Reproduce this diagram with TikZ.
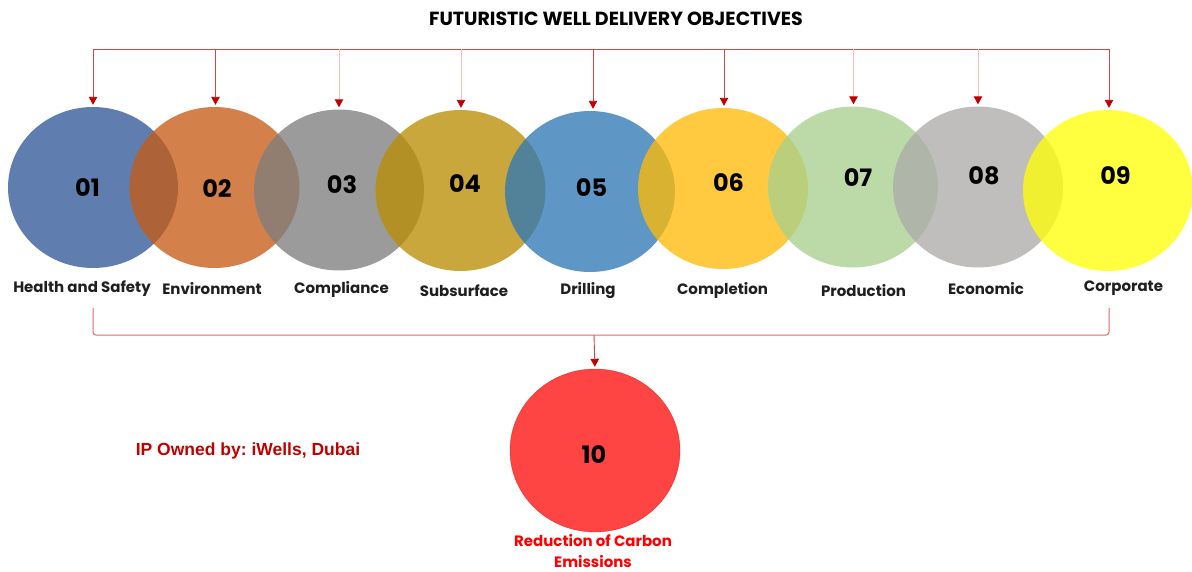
\documentclass[tikz,border=0pt]{standalone}
\usepackage{fontspec}
\setmainfont{Poppins}
\newfontfamily\arialfont{Liberation Sans}
\usetikzlibrary{arrows.meta,shapes.geometric}
\frenchspacing

% disc colours (drawn with partial opacity so neighbours blend)
\definecolor{cOne}{HTML}{2F5797}
\definecolor{cTwo}{HTML}{C75A14}
\definecolor{cThree}{HTML}{7E7E7E}
\definecolor{cFour}{HTML}{B98D02}
\definecolor{cFive}{HTML}{2E78B6}
\definecolor{cSix}{HTML}{FFBB06}
\definecolor{cSeven}{HTML}{A7D08E}
\definecolor{cEight}{HTML}{ACABA9}
\definecolor{cNine}{HTML}{FFFF07}
\definecolor{cTen}{HTML}{FF3B3B}
\definecolor{lineRed}{HTML}{D44545}
\definecolor{faintRed}{HTML}{F3BDBD}
\definecolor{tipRed}{HTML}{C00000}
\definecolor{ipRed}{HTML}{C00000}

\tikzset{
  disc/.style={ellipse, minimum width=170pt, minimum height=161pt,
               inner sep=0pt, draw=none, fill opacity=0.77},
  num/.style={font=\bfseries\fontsize{24}{24}\selectfont, text=black},
  caption/.style={font=\bfseries\fontsize{15}{15}\selectfont, text=black!88},
  feed/.style={draw=lineRed, line width=0.9pt,
               -{Triangle[length=8pt,width=8.5pt,fill=tipRed,color=tipRed]},
               shorten >=2pt},
  feedfaint/.style={feed, draw=faintRed},
  bracket/.style={draw=lineRed!80, line width=1pt, rounded corners=3pt},
}

\begin{document}
\begin{tikzpicture}[x=1pt,y=-1pt]
\useasboundingbox[fill=white] (0,0) rectangle (1192,571);

% title
\node[font=\bfseries\fontsize{19}{19}\selectfont] (title) at (616,19)
  {FUTURISTIC WELL DELIVERY OBJECTIVES};

% the nine objective discs, each later one lying over the previous
\node[disc, fill=cOne]   (c1) at (93,187.5)  {};
\node[disc, fill=cTwo]   (c2) at (214.5,187.5) {};
\node[disc, fill=cThree] (c3) at (339,190)   {};
\node[disc, fill=cFour]  (c4) at (460.5,190.5) {};
\node[disc, fill=cFive]  (c5) at (590,191.5) {};
\node[disc, fill=cSix]   (c6) at (723,188.5) {};
\node[disc, fill=cSeven] (c7) at (853,187)   {};
\node[disc, fill=cEight] (c8) at (978,187)   {};
\node[disc, fill=cNine]  (c9) at (1108,190.5) {};

% numbers
\node[num] (n1) at (87.5,187.5) {01};
\node[num] (n2) at (217,189)    {02};
\node[num] (n3) at (342,184.5)  {03};
\node[num] (n4) at (465,184)    {04};
\node[num] (n5) at (591.5,188)  {05};
\node[num] (n6) at (728.5,182.5){06};
\node[num] (n7) at (858,178)    {07};
\node[num] (n8) at (984,176)    {08};
\node[num] (n9) at (1115.5,176) {09};

% captions under the discs
\node[caption] (l1) at (82,289)    {Health and Safety};
\node[caption] (l2) at (212,288.5) {Environment};
\node[caption] (l3) at (341.5,289) {Compliance};
\node[caption] (l4) at (464,290.5) {Subsurface};
\node[caption] (l5) at (588,291)   {Drilling};
\node[caption] (l6) at (722.5,290.5) {Completion};
\node[caption] (l7) at (863.5,290.5) {Production};
\node[caption] (l8) at (986,288.5) {Economic};
\node[caption] (l9) at (1123.5,288.5) {Corporate};

% feed line from the title to every disc
\coordinate (t1) at (93,49);
\coordinate (t2) at (215.5,49);
\coordinate (t3) at (339,49);
\coordinate (t4) at (461,49);
\coordinate (t5) at (593,49);
\coordinate (t6) at (724,49);
\coordinate (t7) at (853.5,49);
\coordinate (t8) at (978,49);
\coordinate (t9) at (1109,49);
\draw[draw=lineRed, line width=0.9pt] (t1) -- (t9);
\draw[feed]      (t1) -- (t1 |- c1.north);
\draw[feed]      (t2) -- (t2 |- c2.north);
\draw[feedfaint] (t3) -- (t3 |- c3.north);
\draw[feedfaint] (t4) -- (t4 |- c4.north);
\draw[feed]      (t5) -- (t5 |- c5.north);
\draw[feed]      (t6) -- (t6 |- c6.north);
\draw[feedfaint] (t7) -- (t7 |- c7.north);
\draw[feedfaint] (t8) -- (t8 |- c8.north);
\draw[feed]      (t9) -- (t9 |- c9.north);

% bracket gathering all objectives into the tenth
\coordinate (b1) at (93,308);
\coordinate (b9) at (1109,308);
\coordinate (bm) at (594,335);
\draw[bracket] (b1) -- (93,335) -- (1109,335) -- (b9);

\node[disc, fill=cTen, fill opacity=0.95, draw=red!85!black, draw opacity=0.6,
      minimum height=163pt] (c10) at (595,450.5) {};
\node[num] (n10) at (594,455) {10};
\draw[feed] (bm) -- (c10.north);

\node[font=\bfseries\fontsize{15}{20.5}\selectfont, text=red, align=center,
      inner sep=1pt] (l10) at (593,551) {Reduction of Carbon\\Emissions};

\node[font=\arialfont\bfseries\fontsize{17.5}{17.5}\selectfont, text=ipRed]
  (ip) at (248,451) {IP Owned by: iWells, Dubai};
\end{tikzpicture}
\end{document}
